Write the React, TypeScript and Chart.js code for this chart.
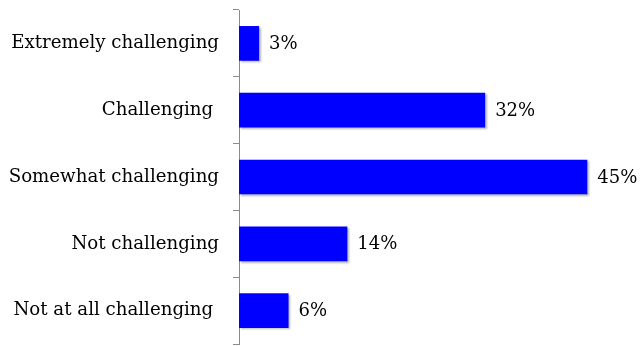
import React, { useEffect, useRef } from "react";
import { Chart, registerables } from "chart.js";

Chart.register(...registerables);

const categories = [
  "Extremely challenging",
  "Challenging ",
  "Somewhat challenging",
  "Not challenging",
  "Not at all challenging ",
];
const values = [2.6, 31.8, 45, 14, 6.4];
const valueLabels = ["3%", "32%", "45%", "14%", "6%"];

const FONT = "'DejaVu Serif', serif";

const shadowPlugin = {
  id: "barShadow",
  beforeDatasetsDraw(chart: any) {
    const ctx = chart.ctx;
    ctx.save();
    ctx.shadowColor = "rgba(0,0,0,0.3)";
    ctx.shadowOffsetX = 1.5;
    ctx.shadowOffsetY = 1.5;
    ctx.shadowBlur = 2;
  },
  afterDatasetsDraw(chart: any) {
    chart.ctx.restore();
  },
};

const labelPlugin = {
  id: "valueLabels",
  afterDatasetsDraw(chart: any) {
    const ctx = chart.ctx;
    const meta = chart.getDatasetMeta(0);
    ctx.save();
    ctx.font = `18px ${FONT}`;
    ctx.fillStyle = "#000";
    ctx.textAlign = "left";
    ctx.textBaseline = "middle";
    meta.data.forEach((bar: any, i: number) => {
      ctx.fillText(valueLabels[i], bar.x + 10, bar.y + 1);
    });
    ctx.restore();
  },
};

export default function App() {
  const ref = useRef<HTMLCanvasElement>(null);
  useEffect(() => {
    document.body.style.margin = "0";
    const chart = new Chart(ref.current!, {
      type: "bar",
      data: {
        labels: categories,
        datasets: [
          {
            data: values,
            backgroundColor: "#0000FF",
            borderWidth: 0,
            categoryPercentage: 1,
            barPercentage: 0.52,
          },
        ],
      },
      options: {
        indexAxis: "y",
        animation: false,
        responsive: false,
        layout: { padding: { top: 10, bottom: 2, left: 0, right: 16 } },
        plugins: { legend: { display: false }, tooltip: { enabled: false } },
        scales: {
          x: { display: false, min: 0, max: 50 },
          y: {
            afterFit: (s: any) => {
              s.width = 239;
              s.paddingTop = 0;
              s.paddingBottom = 0;
            },
            border: { color: "#8c8c8c", width: 1 },
            grid: {
              drawOnChartArea: false,
              tickLength: 6,
              color: "#8c8c8c",
              offset: true,
            },
            ticks: {
              padding: 14,
              color: "#000",
              font: { family: FONT, size: 18.2 },
            },
          },
        },
      },
      plugins: [shadowPlugin, labelPlugin],
    });
    return () => chart.destroy();
  }, []);
  return (
    <div style={{ position: "absolute", left: 0, top: 0, width: 642, height: 346 }}>
      <canvas ref={ref} width={642} height={346} />
    </div>
  );
}
